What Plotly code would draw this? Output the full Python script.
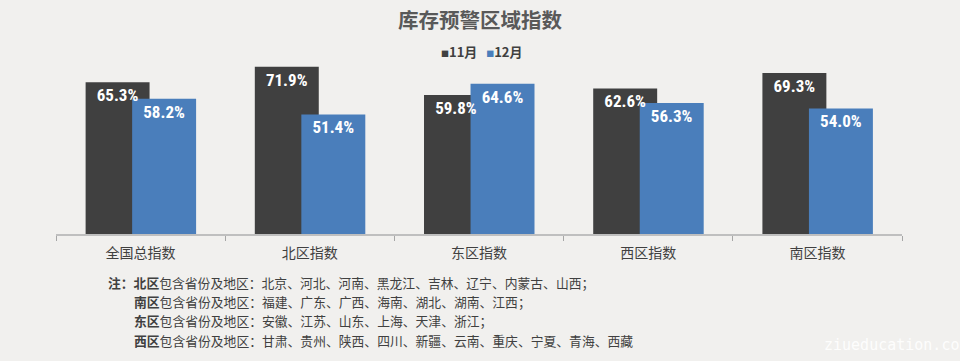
import plotly.graph_objects as go

# ---- data ----
categories = ["全国总指数", "北区指数", "东区指数", "西区指数", "南区指数"]
nov_values = [65.3, 71.9, 59.8, 62.6, 69.3]
dec_values = [58.2, 51.4, 64.6, 56.3, 54.0]
series_names = ["11月", "12月"]
title_text = "库存预警区域指数"
note_lines = [
    "<b>注：北区</b>包含省份及地区：北京、河北、河南、黑龙江、吉林、辽宁、内蒙古、山西；",
    "<b>南区</b>包含省份及地区：福建、广东、广西、海南、湖北、湖南、江西；",
    "<b>东区</b>包含省份及地区：安徽、江苏、山东、上海、天津、浙江；",
    "<b>西区</b>包含省份及地区：甘肃、贵州、陕西、四川、新疆、云南、重庆、宁夏、青海、西藏",
]
watermark = "ziueducation.com"

# ---- style ----
W, H = 960, 361
ML, MR, MT, MB = 56, 57.5, 48, 127
BG = "#f1f0ee"
DARK = "#404040"
BLUE = "#4a7ebb"
TXT = "#404040"
CJK = "Noto Sans CJK SC, Noto Sans, sans-serif"
NARROW = ("Roboto Condensed, Noto Sans Condensed, DejaVu Sans Condensed, "
          "Liberation Sans Narrow, Arial Narrow, Roboto, sans-serif")
BAR_W = 0.378
OFF_NOV = -0.325
OFF_DEC = -0.05

plot_w = W - ML - MR
plot_h = H - MT - MB


def px2x(px):
    return (px - ML) / plot_w


def px2y(py):
    return (H - MB - py) / plot_h


fig = go.Figure()

# filled bars
fig.add_trace(go.Bar(x=categories, y=nov_values, name=series_names[0],
                     marker=dict(color=DARK, line=dict(width=0)),
                     width=BAR_W, offset=OFF_NOV, showlegend=False,
                     hoverinfo="skip"))
fig.add_trace(go.Bar(x=categories, y=dec_values, name=series_names[1],
                     marker=dict(color=BLUE, line=dict(width=0)),
                     width=BAR_W, offset=OFF_DEC, showlegend=False,
                     hoverinfo="skip"))

# transparent twins carrying the value labels (drawn on top of both bars)
for vals, off in [(nov_values, OFF_NOV), (dec_values, OFF_DEC)]:
    fig.add_trace(go.Bar(x=categories, y=vals,
                         marker=dict(color="rgba(0,0,0,0)", line=dict(width=0)),
                         width=BAR_W, offset=off, showlegend=False,
                         texttemplate="%{y:.1f}%", textposition="inside",
                         insidetextanchor="end", textangle=0,
                         constraintext="none",
                         textfont=dict(color="white", size=17, family=NARROW,
                                       weight="bold"),
                         hoverinfo="skip"))

annotations = []
# legend row (small coloured squares followed by series names)
legend_text = (
    f"<span style='color:{DARK};font-size:8px'>■</span>{series_names[0]}"
    f"   <span style='color:{BLUE};font-size:8px'>■</span>{series_names[1]}"
)
annotations.append(dict(text="<b>" + legend_text + "</b>", xref="paper",
                        yref="paper", x=px2x(482), y=px2y(51),
                        xanchor="center", yanchor="middle", showarrow=False,
                        font=dict(family=CJK, size=13, color=TXT)))

for i, line in enumerate(note_lines):
    if i == 0:
        x0, y0 = 106, 282
    else:
        x0, y0 = 132, [301, 320.5, 340][i - 1]
    annotations.append(dict(text=line, xref="paper", yref="paper",
                            x=px2x(x0), y=px2y(y0), xanchor="left",
                            yanchor="middle", showarrow=False,
                            font=dict(family=CJK, size=12.8, color=TXT)))
annotations.append(dict(text=watermark, xref="paper", yref="paper",
                        x=px2x(822), y=px2y(345), xanchor="left",
                        yanchor="middle", showarrow=False,
                        font=dict(family="DejaVu Sans Mono, monospace",
                                  size=15, color="rgba(255,255,255,0.9)")))

fig.update_layout(
    width=W, height=H,
    margin=dict(l=ML, r=MR, t=MT, b=MB, pad=0),
    paper_bgcolor=BG, plot_bgcolor=BG,
    barmode="overlay",
    title=dict(text="<b>" + title_text + "</b>", x=0.5, xref="container",
               xanchor="center", y=1 - 21 / H, yref="container",
               yanchor="middle",
               font=dict(family=CJK, size=20.5, color="#595959")),
    xaxis=dict(type="category", range=[-0.5, 4.5],
               showline=True, linecolor="#bfbfbf", linewidth=1.5,
               ticks="outside", tickson="boundaries", ticklen=5,
               tickcolor="#a6a6a6", tickwidth=1, ticklabelstandoff=5,
               tickfont=dict(family=CJK, size=14, color=TXT),
               showgrid=False, zeroline=False, fixedrange=True),
    yaxis=dict(range=[0, 80], visible=False, showgrid=False,
               zeroline=False, fixedrange=True),
    annotations=annotations,
    showlegend=False,
)

fig.write_html(
    "out.html",
    config={"displayModeBar": False},
    post_script="document.body.style.margin='0';"
                "document.body.style.padding='0';"
                "document.body.style.overflow='hidden';",
)
